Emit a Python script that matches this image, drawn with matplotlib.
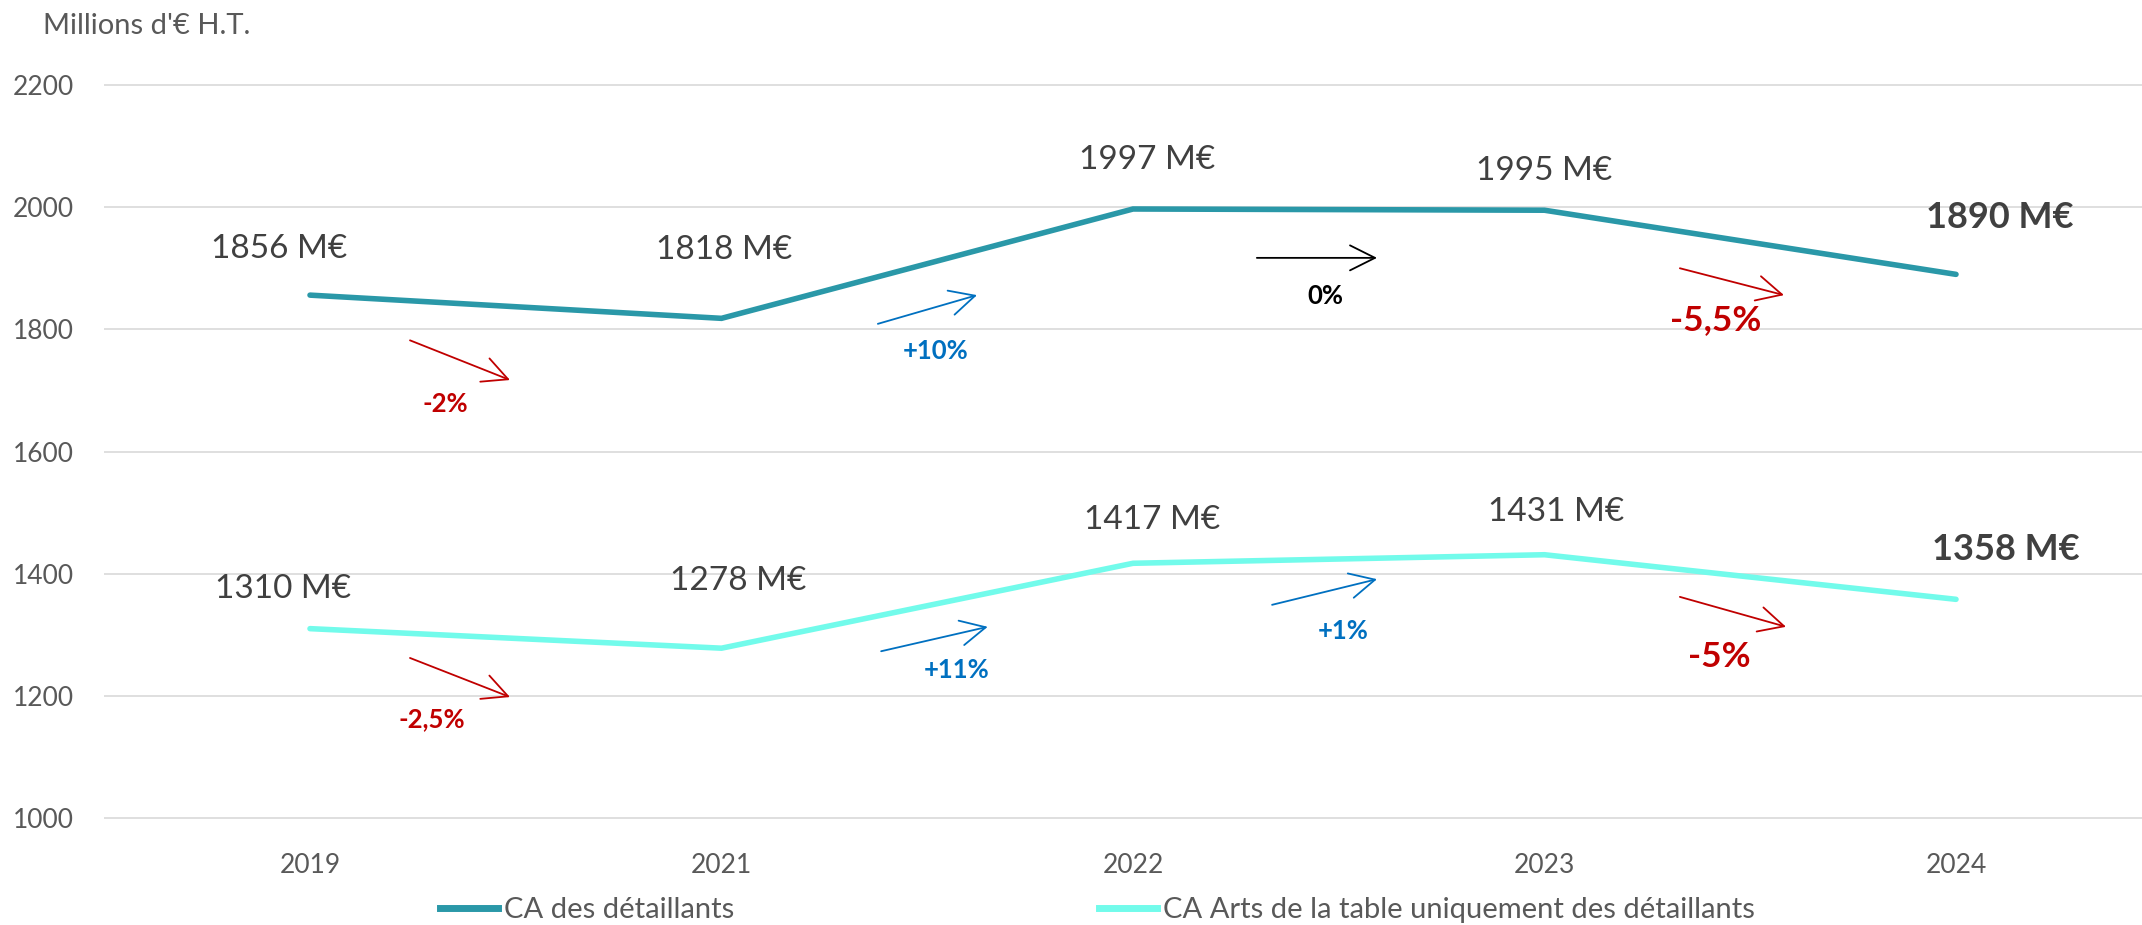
import matplotlib
matplotlib.use("Agg")
import matplotlib.pyplot as plt
from matplotlib.lines import Line2D

plt.rcParams['font.family'] = ['Lato', 'DejaVu Sans']

# ---------------- data ----------------
years = ["2019", "2021", "2022", "2023", "2024"]
ca_total = [1856, 1818, 1997, 1995, 1890]
ca_table = [1310, 1278, 1417, 1431, 1358]
series_names = ["CA des détaillants", "CA Arts de la table uniquement des détaillants"]
y_ticks = [1000, 1200, 1400, 1600, 1800, 2000, 2200]
unit_label = "Millions d'€ H.T."

var_total = ["-2%", "+10%", "0%", "-5,5%"]
var_table = ["-2,5%", "+11%", "+1%", "-5%"]

# ---------------- layout / style ----------------
W, H = 2142, 925
DPI = 100
TEAL = "#2A98A8"
CYAN = "#72FBEB"
RED = "#C00000"
BLUE = "#0070C0"
BLACK = "#000000"
LABEL_C = "#404040"
TICK_C = "#595959"

fig = plt.figure(figsize=(W / DPI, H / DPI), dpi=DPI)
x_left_px = 104.25
cat_px = 411.5
y_lo, y_hi = 990, 2210
px_per_unit = 733 / 1200
ax_top_px = 85 - (y_hi - 2200) * px_per_unit
ax_bot_px = 818 + (1000 - y_lo) * px_per_unit
ax = fig.add_axes([x_left_px / W, 1 - ax_bot_px / H, (W - x_left_px) / W, (ax_bot_px - ax_top_px) / H])
ax.set_xlim(-0.5, (W - x_left_px) / cat_px - 0.5)
ax.set_ylim(y_lo, y_hi)

xs = list(range(len(years)))
ax.plot(xs, ca_total, color=TEAL, lw=4.0, solid_capstyle='round', solid_joinstyle='miter', zorder=3)
ax.plot(xs, ca_table, color=CYAN, lw=4.0, solid_capstyle='round', solid_joinstyle='miter', zorder=3)

for s in ax.spines.values():
    s.set_visible(False)
ax.set_yticks(y_ticks)
ax.set_xticks(xs)
ax.set_xticklabels(years)
ax.tick_params(axis='both', length=0, colors=TICK_C)
ax.tick_params(axis='y', pad=22, labelsize=19)
ax.tick_params(axis='x', pad=21, labelsize=19)
ax.grid(axis='y', color='#D9D9D9', lw=1.2, zorder=0)
ax.grid(axis='x', visible=False)

fig.text(43 / W, 1 - 26 / H, unit_label, fontsize=21, color=TICK_C, ha='left', va='center')

# value labels (offsets in pixels from the points)
off_total = [(-31, 46), (3, 68), (14, 49), (0, 39), (44, 57)]
off_table = [(-27, 40), (17, 67), (19, 43), (12, 43), (50, 50)]
for i, (v, o) in enumerate(zip(ca_total, off_total)):
    last = i == len(ca_total) - 1
    ax.annotate(f"{v} M€", (i, v), xytext=o, textcoords='offset pixels', ha='center', va='center',
                fontsize=26 if last else 24, fontweight='bold' if last else 'normal', color=LABEL_C)
for i, (v, o) in enumerate(zip(ca_table, off_table)):
    last = i == len(ca_table) - 1
    ax.annotate(f"{v} M€", (i, v), xytext=o, textcoords='offset pixels', ha='center', va='center',
                fontsize=26 if last else 24, fontweight='bold' if last else 'normal', color=LABEL_C)

# variation arrows (data coordinates) and their labels
arr_total = [((0.243, 1782), (0.486, 1717)), ((1.380, 1809), (1.621, 1856)),
             ((2.301, 1917), (2.593, 1917)), ((3.329, 1900), (3.582, 1856))]
lab_total = [(0.328, 1678), (1.521, 1764), (2.467, 1854), (3.417, 1816)]
col_total = [RED, BLUE, BLACK, RED]
size_total = [18.5, 18.5, 18.5, 25.5]

arr_table = [((0.243, 1262), (0.486, 1198)), ((1.388, 1273), (1.647, 1313)),
             ((2.338, 1349), (2.593, 1391)), ((3.329, 1362), (3.587, 1313))]
lab_table = [(0.296, 1162), (1.572, 1242), (2.510, 1306), (3.426, 1264)]
col_table = [RED, BLUE, BLUE, RED]
size_table = [18.5, 18.5, 18.5, 25.5]

for arrs, labs, txts, cols, sizes in [(arr_total, lab_total, var_total, col_total, size_total),
                                      (arr_table, lab_table, var_table, col_table, size_table)]:
    for (p0, p1), lp, t, c, sz in zip(arrs, labs, txts, cols, sizes):
        ax.annotate("", xy=p1, xytext=p0,
                    arrowprops=dict(arrowstyle="->,head_length=0.9,head_width=0.45",
                                    color=c, lw=1.3, mutation_scale=20, shrinkA=0, shrinkB=0))
        ax.text(lp[0], lp[1], t, color=c, fontsize=sz, fontweight='bold', ha='center', va='center')

# legend: two entries placed separately
h1 = Line2D([], [], color=TEAL, lw=5)
h2 = Line2D([], [], color=CYAN, lw=5)
for h, name, xpx in [(h1, series_names[0], 440), (h2, series_names[1], 1099)]:
    fig.legend(handles=[h], labels=[name], loc='center left', bbox_to_anchor=(xpx / W, 1 - 910 / H),
               frameon=False, fontsize=21, handlelength=2.0, handletextpad=0.2,
               borderpad=0, borderaxespad=0, labelcolor=TICK_C)

fig.savefig("out.png", dpi=DPI)
